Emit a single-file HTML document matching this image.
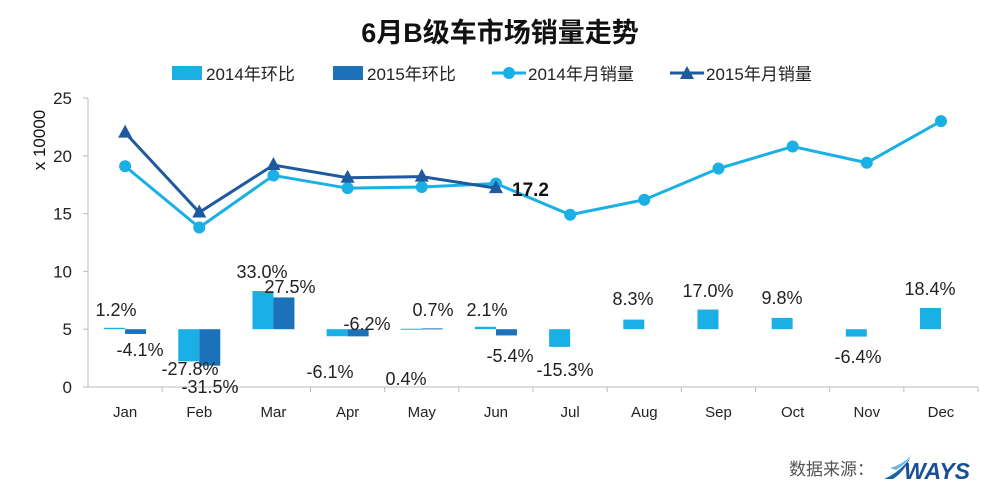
<!DOCTYPE html>
<html><head><meta charset="utf-8"><style>
body{margin:0;background:#fff;}
svg{display:block;font-family:"Liberation Sans","Noto Sans CJK SC",sans-serif;}
</style></head><body>
<svg id="c" width="1000" height="493" xmlns="http://www.w3.org/2000/svg">
<text x="500" y="42" text-anchor="middle" font-size="27" font-weight="bold" fill="#111">6月B级车市场销量走势</text>
<rect x="172" y="66" width="30" height="14" fill="#1ab0e6"/>
<text x="206" y="80" font-size="17" fill="#222">2014年环比</text>
<rect x="333" y="66" width="30" height="14" fill="#1c72b8"/>
<text x="367" y="80" font-size="17" fill="#222">2015年环比</text>
<line x1="492" y1="73" x2="526" y2="73" stroke="#1ab0e6" stroke-width="3"/><circle cx="509" cy="73" r="6" fill="#1ab0e6"/>
<text x="528" y="80" font-size="17" fill="#222">2014年月销量</text>
<line x1="670" y1="73" x2="704" y2="73" stroke="#1f5a9e" stroke-width="3"/><path d="M687,66 L694,79 L680,79Z" fill="#1f5a9e"/>
<text x="706" y="80" font-size="17" fill="#222">2015年月销量</text>
<text transform="translate(45,140) rotate(-90)" text-anchor="middle" font-size="17" fill="#111">x 10000</text>
<g id="g"></g>
<text x="789" y="475" font-size="17" fill="#555">数据来源：</text>
<path d="M884,479 Q900,472 910,458 Q904,472 893,479Z" fill="#1a63a8"/>
<path d="M890,468 Q904,464 912,454 Q906,464 896,470Z" fill="#6fb3e0"/>
<text x="904" y="479" font-size="23" font-weight="bold" font-style="italic" fill="#1a4f96">WAYS</text>
</svg>
<script>
var g=document.getElementById('g'),s='';
function Y(v){return 387-v*11.56;}
function X(i){return 88+37.1+74.17*i;}
s+='<line x1="88" y1="98" x2="88" y2="387" stroke="#bbb"/><line x1="88" y1="387" x2="978" y2="387" stroke="#bbb"/>';
for(var t=0;t<=25;t+=5){s+='<line x1="83" y1="'+Y(t)+'" x2="88" y2="'+Y(t)+'" stroke="#bbb"/><text x="72" y="'+(Y(t)+6)+'" text-anchor="end" font-size="17" fill="#222">'+t+'</text>';}
var m=['Jan','Feb','Mar','Apr','May','Jun','Jul','Aug','Sep','Oct','Nov','Dec'];
for(var i=0;i<12;i++){var bx=88+74.17*(i+1);s+='<line x1="'+bx+'" y1="387" x2="'+bx+'" y2="392" stroke="#bbb"/>';s+='<text x="'+X(i)+'" y="417" text-anchor="middle" font-size="15" fill="#222">'+m[i]+'</text>';}
var p14=[1.2,-27.8,33.0,-6.1,0.4,2.1,-15.3,8.3,17.0,9.8,-6.4,18.4],p15=[-4.1,-31.5,27.5,-6.2,0.7,-5.4];
function bar(x,p,c){var v=5+p/10,y1=Math.min(Y(5),Y(v)),h=Math.max(Math.abs(Y(5)-Y(v)),1);s+='<rect x="'+x+'" y="'+y1+'" width="21" height="'+h+'" fill="'+c+'"/>';}
for(i=0;i<12;i++)bar(X(i)-21,p14[i],'#1ab0e6');
for(i=0;i<6;i++)bar(X(i),p15[i],'#1c72b8');
var L=[[116,316,'1.2%'],[140,356,'-4.1%'],[190,375,'-27.8%'],[210,393,'-31.5%'],[262,278,'33.0%'],[290,293,'27.5%'],[330,378,'-6.1%'],[367,330,'-6.2%'],[433,316,'0.7%'],[406,385,'0.4%'],[487,316,'2.1%'],[510,362,'-5.4%'],[565,376,'-15.3%'],[633,305,'8.3%'],[708,297,'17.0%'],[782,304,'9.8%'],[858,363,'-6.4%'],[930,295,'18.4%']];
L.forEach(function(l){s+='<text x="'+l[0]+'" y="'+l[1]+'" text-anchor="middle" font-size="18" fill="#222">'+l[2]+'</text>';});
var a=[19.1,13.8,18.3,17.2,17.3,17.6,14.9,16.2,18.9,20.8,19.4,23.0],b=[22.0,15.1,19.2,18.1,18.2,17.2];
var pa=a.map(function(v,i){return X(i)+','+Y(v)}).join(' ');
s+='<polyline points="'+pa+'" fill="none" stroke="#1ab0e6" stroke-width="3"/>';
a.forEach(function(v,i){s+='<circle cx="'+X(i)+'" cy="'+Y(v)+'" r="6" fill="#1ab0e6"/>';});
var pb=b.map(function(v,i){return X(i)+','+Y(v)}).join(' ');
s+='<polyline points="'+pb+'" fill="none" stroke="#1f5a9e" stroke-width="3"/>';
b.forEach(function(v,i){var x=X(i),y=Y(v);s+='<path d="M'+x+','+(y-8)+' L'+(x+7)+','+(y+5)+' L'+(x-7)+','+(y+5)+'Z" fill="#1f5a9e"/>';});
s+='<text x="512" y="196" font-size="19" font-weight="bold" fill="#111">17.2</text>';
g.innerHTML=s;
</script>
</body></html>
